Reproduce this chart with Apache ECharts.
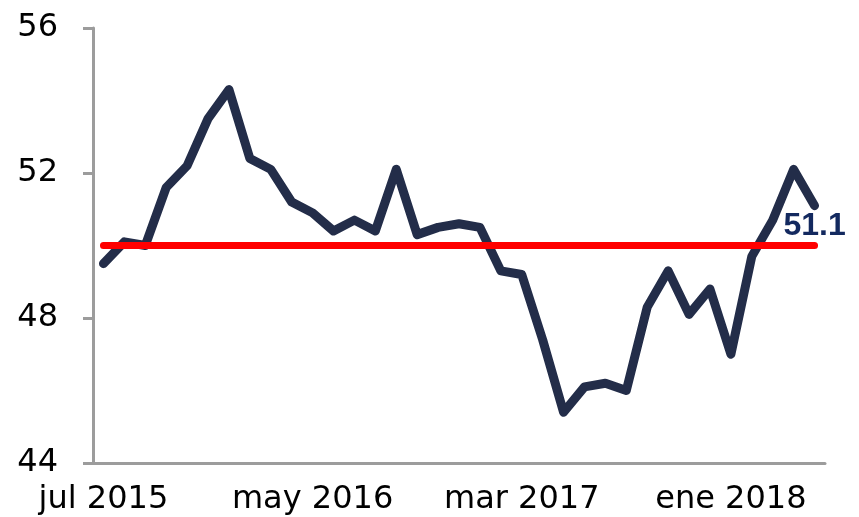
<!DOCTYPE html>
<html>
<head>
	<meta charset="utf-8">
	<title>pmi</title>
	<script type="text/javascript" src="https://cdn.jsdelivr.net/npm/echarts@6/dist/echarts.min.js"></script>
	<style>
		html, body { margin: 0; padding: 0; background: #fff; }
		#DIV1 { width: 859px; height: 517px; }
	</style>
</head>
<body>
	<div id="DIV1"></div>
	<script type="text/javascript">

		// meses jul 2015 .. may 2018
		const months = [
			"jul 2015","ago 2015","sep 2015","oct 2015","nov 2015","dic 2015",
			"ene 2016","feb 2016","mar 2016","abr 2016","may 2016","jun 2016",
			"jul 2016","ago 2016","sep 2016","oct 2016","nov 2016","dic 2016",
			"ene 2017","feb 2017","mar 2017","abr 2017","may 2017","jun 2017",
			"jul 2017","ago 2017","sep 2017","oct 2017","nov 2017","dic 2017",
			"ene 2018","feb 2018","mar 2018","abr 2018","may 2018"
		];
		const index = [
			49.5, 50.1, 50.0, 51.6, 52.2, 53.5, 54.3, 52.4, 52.1, 51.2,
			50.9, 50.4, 50.7, 50.4, 52.1, 50.3, 50.5, 50.6, 50.5, 49.3,
			49.2, 47.4, 45.4, 46.1, 46.2, 46.0, 48.3, 49.3, 48.1, 48.8,
			47.0, 49.7, 50.7, 52.1, 51.1
		];
		const threshold = months.map(function(){ return 50; });
		const yTicks = { min: 44, max: 56, step: 4 };

		const chart = echarts.init(document.getElementById("DIV1"));
		const axisGrey = "#9c9c9c";
		const labelFont = "DejaVu Sans";
		const last = index.length - 1;

		chart.setOption({
			animation: false,
			grid: { left: 93, right: 34, top: 28, bottom: 54 },
			xAxis: {
				type: "category",
				data: months,
				boundaryGap: true,
				axisLine: { lineStyle: { color: axisGrey, width: 3 } },
				axisTick: { interval: 9, length: 10, lineStyle: { color: axisGrey, width: 3 } },
				axisLabel: {
					interval: 9, margin: 21, color: "#000",
					fontFamily: labelFont, fontSize: 32
				},
				splitLine: { show: false }
			},
			yAxis: {
				type: "value",
				min: yTicks.min, max: yTicks.max, interval: yTicks.step,
				axisLine: { show: true, lineStyle: { color: axisGrey, width: 3 } },
				axisTick: { show: true, length: 10, lineStyle: { color: axisGrey, width: 3 } },
				axisLabel: {
					margin: 35, color: "#000",
					fontFamily: labelFont, fontSize: 32
				},
				splitLine: { show: false }
			},
			series: [
				{
					type: "line",
					data: index,
					symbol: "circle",
					symbolSize: 0,
					showAllSymbol: true,
					z: 2,
					lineStyle: { color: "#232d49", width: 9, cap: "round", join: "round" },
					label: {
						show: true,
						position: "bottom",
						distance: 5,
						offset: [9, 0],
						color: "#13295f",
						fontFamily: "Liberation Sans",
						fontWeight: "bold",
						fontSize: 32,
						formatter: function(p){ return p.dataIndex === last ? p.value.toFixed(1) : ""; }
					},
					labelLayout: { hideOverlap: false }
				},
				{
					type: "line",
					data: threshold,
					symbol: "none",
					z: 3,
					lineStyle: { color: "#ff0000", width: 7, cap: "round" }
				}
			]
		});
	</script>
</body>
</html>
